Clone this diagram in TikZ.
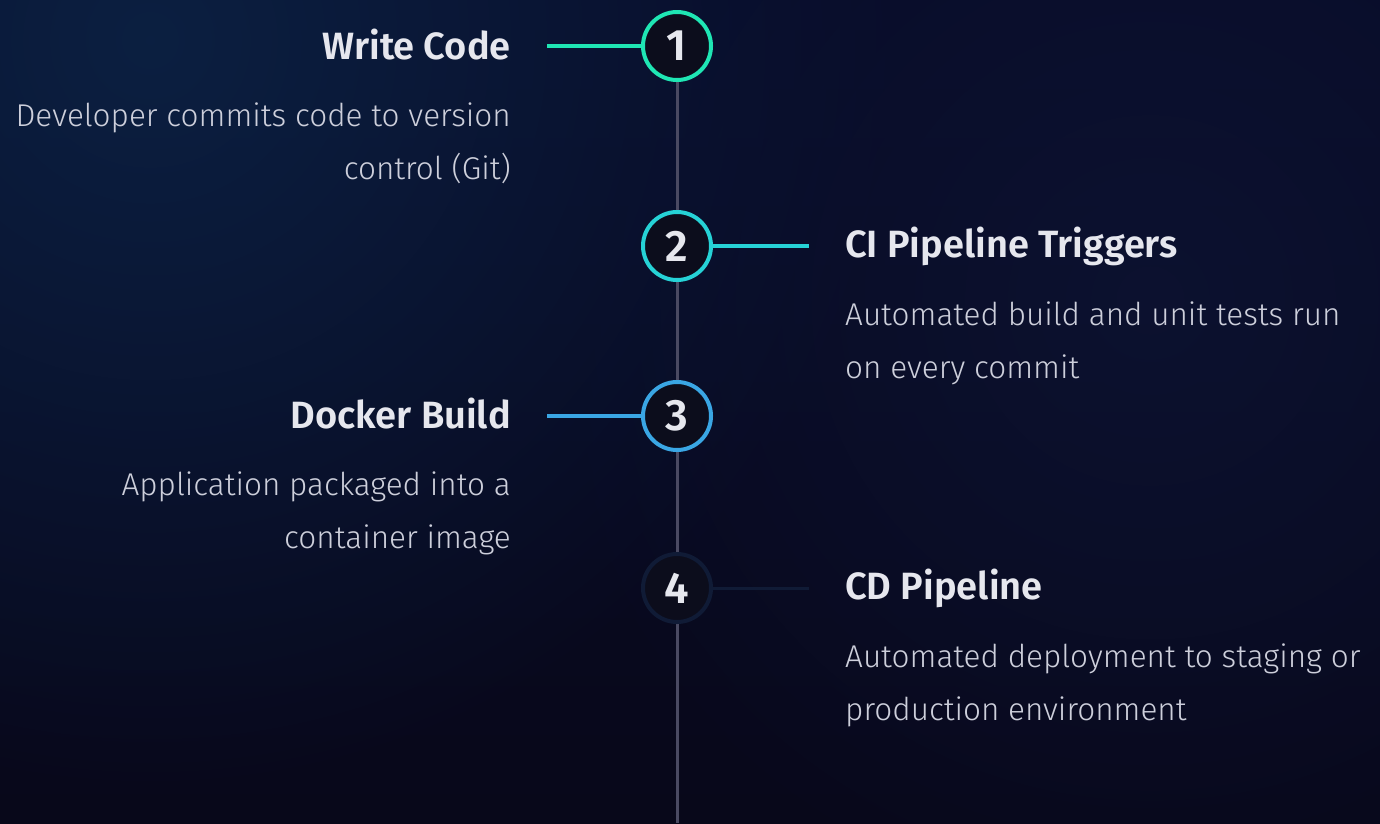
\documentclass[tikz,border=0pt]{standalone}
\usepackage{fontspec}
\setmainfont{Fira Sans}[UprightFont=* Light, BoldFont=* SemiBold]
\usepackage{tikz}
\usetikzlibrary{fadings}

\definecolor{bgtop}{HTML}{080B28}
\definecolor{bgbot}{HTML}{08081A}
\definecolor{glow}{HTML}{0C2244}
\definecolor{glowB}{HTML}{0E1535}
\definecolor{rail}{HTML}{4A4A62}
\definecolor{dotfill}{HTML}{0C0D1C}
\definecolor{stepA}{HTML}{1FE6B4}
\definecolor{stepB}{HTML}{26D2D6}
\definecolor{stepC}{HTML}{3AA6E4}
\definecolor{stepD}{HTML}{101B36}
\definecolor{headtext}{HTML}{E6E7EE}
\definecolor{bodytext}{HTML}{CDCFDB}

\tikzfading[name=softglow,inner color=transparent!0,outer color=transparent!100]

\begin{document}
\begin{tikzpicture}[x=1pt,y=-1pt,
    dot/.style={circle,draw,line width=4pt,fill=dotfill,minimum size=68pt,inner sep=0pt,
                text=headtext,font=\bfseries\fontsize{44}{44}\selectfont},
    head/.style={inner sep=0pt,text=headtext,font=\bfseries\fontsize{38}{38}\selectfont},
    body/.style={inner sep=0pt,text=bodytext,font=\fontsize{31.5}{31.5}\selectfont},
    link/.style={line width=4pt}]
  % background
  \path [top color=bgtop,bottom color=bgbot] (0,0) rectangle (1380,823);
  \begin{scope}
    \clip (0,0) rectangle (1380,823);
    \fill [glow,path fading=softglow,opacity=.9] (150,40) circle [radius=760];
    \fill [glowB,path fading=softglow,opacity=.7] (1150,300) circle [radius=640];
  \end{scope}
  \useasboundingbox (0,0) rectangle (1380,823);

  % rail
  \coordinate (top) at (677,46);
  \coordinate (bot) at (677,823);
  \draw [rail,line width=3pt] (top) -- (bot);

  % steps
  \node [dot,draw=stepA] (s1) at (677,46) {1};
  \node [dot,draw=stepB] (s2) at (677,246) {2};
  \node [dot,draw=stepC] (s3) at (677,416) {3};
  \node [dot,draw=stepD] (s4) at (677,588) {4};

  \coordinate (e1) at (547,46);
  \coordinate (e2) at (809,246);
  \coordinate (e3) at (547,416);
  \coordinate (e4) at (809,588);
  \draw [link,stepA] (e1) -- (s1);
  \draw [link,stepB] (s2) -- (e2);
  \draw [link,stepC] (e3) -- (s3);
  \draw [link,stepD,line width=3pt] (s4) -- (e4);

  % left side
  \node [head,anchor=base east] (h1) at (511,59) {Write Code};
  \node [body,anchor=base east] (b1a) at (511,126) {Developer commits code to version};
  \node [body,anchor=base east] (b1b) at (511,179) {control (Git)};
  \node [head,anchor=base east] (h3) at (511,428) {Docker Build};
  \node [body,anchor=base east] (b3a) at (511,495) {Application packaged into a};
  \node [body,anchor=base east] (b3b) at (511,548) {container image};

  % right side
  \node [head,anchor=base west] (h2) at (845,257) {CI Pipeline Triggers};
  \node [body,anchor=base west] (b2a) at (845,325) {Automated build and unit tests run};
  \node [body,anchor=base west] (b2b) at (845,378) {on every commit};
  \node [head,anchor=base west] (h4) at (845,599) {CD Pipeline};
  \node [body,anchor=base west] (b4a) at (845,667) {Automated deployment to staging or};
  \node [body,anchor=base west] (b4b) at (845,720) {production environment};
\end{tikzpicture}
\end{document}
